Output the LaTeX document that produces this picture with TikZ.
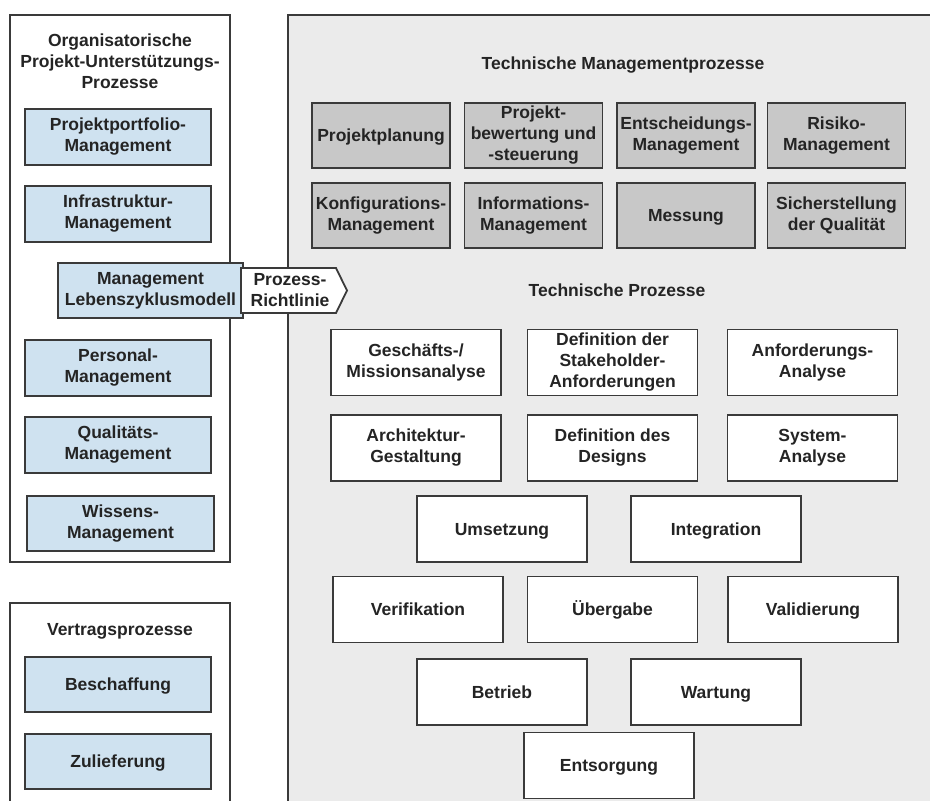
\documentclass[tikz,border=0pt]{standalone}
\usepackage{fontspec}
\setmainfont{Liberation Sans}
\usetikzlibrary{positioning}
\definecolor{FrameGray}{RGB}{58, 58, 58}
\definecolor{TextGray}{RGB}{36, 36, 36}
\definecolor{OrgBlue}{RGB}{207, 226, 240}
\definecolor{MgmtGray}{RGB}{200, 200, 200}
\definecolor{PanelGray}{RGB}{235, 235, 235}

\begin{document}
\begin{tikzpicture}[x=1pt, y=-1pt,
          frame/.style={draw=FrameGray, line width=1.8pt},
          lbl/.style={text=TextGray, align=center, inner sep=0pt,
                      font=\bfseries\fontsize{17.5}{21}\selectfont},
          oneline/.style={text height=12.6pt, text depth=0.6pt},
          orgbox/.style={lbl, frame, fill=OrgBlue,
                         minimum width=186pt, minimum height=56pt},
          tmbox/.style={lbl, frame, fill=MgmtGray,
                        minimum width=138pt, minimum height=65pt},
          tpbox/.style={lbl, frame, fill=white,
                        minimum width=170pt, minimum height=66pt}
        ]
        \useasboundingbox (0,0) rectangle (930,801);

        % panels, the lower ones run off the page
        \fill[PanelGray] (288,15) rectangle (930,801);
        \draw[frame] (288,801) -- (288,15) -- (930,15);
        \draw[frame, fill=white] (10,15) rectangle (230,562);
        \fill[white] (10,603) rectangle (230,801);
        \draw[frame] (10,801) -- (10,603) -- (230,603) -- (230,801);

        % organisational processes
        \node[lbl] (orgtitle) at (120,61)
              {Organisatorische\\Projekt-Unterstützungs-\\Prozesse};
        \node[orgbox] (portfolio) at (118,137)   {Projektportfolio-\\Management};
        \node[orgbox] (infra)     at (118,214)   {Infrastruktur-\\Management};
        \node[orgbox, minimum width=185pt, minimum height=55pt]
                      (lifecycle) at (150.5,290.5) {Management\\Lebenszyklusmodell};
        \node[orgbox] (personal)  at (118,368)   {Personal-\\Management};
        \node[orgbox] (quality)   at (118,445)   {Qualitäts-\\Management};
        \node[orgbox, minimum width=187pt, minimum height=55pt]
                      (knowledge) at (120.5,523.5) {Wissens-\\Management};

        % guideline tag pointing into the technical panel
        \draw[frame, fill=white] (241,268) -- (336,268) -- (347,290.5)
              -- (336,313) -- (241,313) -- cycle;
        \node[lbl] (guide) at (290,290.5) {Prozess-\\Richtlinie};

        % agreement processes
        \node[lbl, oneline] (agrtitle) at (120,629) {Vertragsprozesse};
        \node[orgbox, oneline, minimum height=55pt] (acquire) at (118,684.5) {Beschaffung};
        \node[orgbox, oneline, minimum height=55pt] (supply)  at (118,761.5) {Zulieferung};

        % technical management processes
        \node[lbl, oneline] (tmtitle) at (623,63) {Technische Managementprozesse};
        \node[tmbox, oneline] (planning) at (381,135.5) {Projektplanung};
        \node[tmbox] (assess)   at (533.5,135.5) {Projekt-\\bewertung und\\-steuerung};
        \node[tmbox] (decision) at (686,135.5)   {Entscheidungs-\\Management};
        \node[tmbox] (risk)     at (836.5,135.5) {Risiko-\\Management};
        \node[tmbox] (config)   at (381,215.5)   {Konfigurations-\\Management};
        \node[tmbox] (info)     at (533.5,215.5) {Informations-\\Management};
        \node[tmbox, oneline] (measure) at (686,215.5) {Messung};
        \node[tmbox] (qa)       at (836.5,215.5) {Sicherstellung\\der Qualität};

        % technical processes
        \node[lbl, oneline] (tptitle) at (617,290) {Technische Prozesse};
        \node[tpbox] (mission)   at (416,362.5)   {Geschäfts-/\\Missionsanalyse};
        \node[tpbox] (stakeh)    at (612.5,362.5) {Definition der\\Stakeholder-\\Anforderungen};
        \node[tpbox] (reqs)      at (812.5,362.5) {Anforderungs-\\Analyse};
        \node[tpbox] (arch)      at (416,448)     {Architektur-\\Gestaltung};
        \node[tpbox] (design)    at (612.5,448)   {Definition des\\Designs};
        \node[tpbox] (sysanal)   at (812.5,448)   {System-\\Analyse};
        \node[tpbox, oneline] (implement) at (502,529)     {Umsetzung};
        \node[tpbox, oneline] (integrate) at (716,529)     {Integration};
        \node[tpbox, oneline] (verify)    at (418,609.5)   {Verifikation};
        \node[tpbox, oneline] (transit)   at (612.5,609.5) {Übergabe};
        \node[tpbox, oneline] (validate)  at (813,609.5)   {Validierung};
        \node[tpbox, oneline] (operate)   at (502,692)     {Betrieb};
        \node[tpbox, oneline] (maintain)  at (716,692)     {Wartung};
        \node[tpbox, oneline] (dispose)   at (609,765.5)   {Entsorgung};
      \end{tikzpicture}
\end{document}
